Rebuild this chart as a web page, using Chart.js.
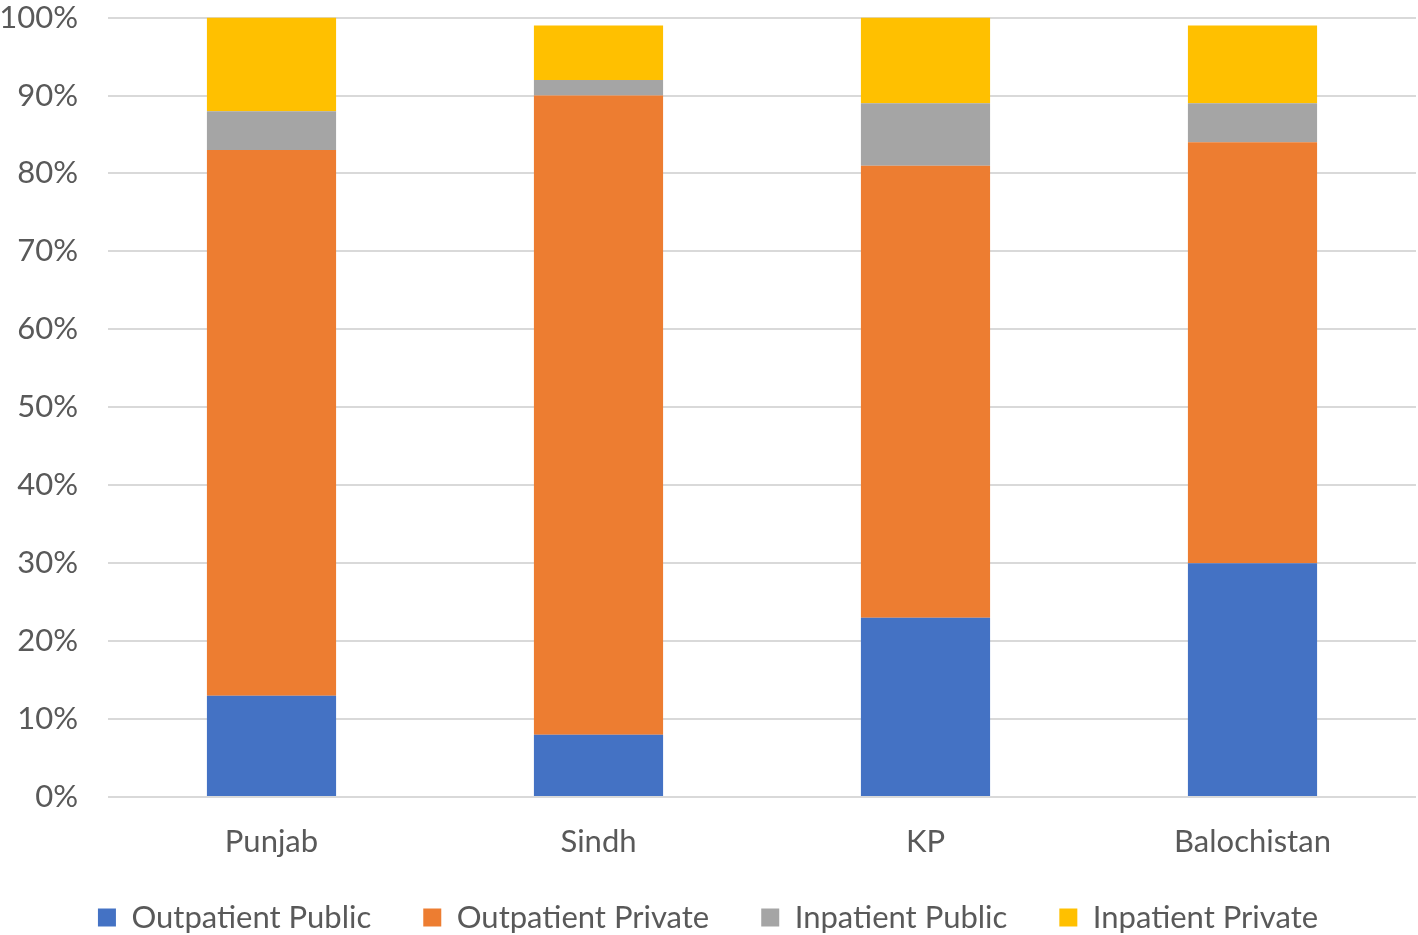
<!DOCTYPE html>
<html>
<head>
<meta charset="utf-8">
<script src="https://cdn.jsdelivr.net/npm/chart.js@4/dist/chart.umd.min.js"></script>
<style>
  html, body { margin: 0; padding: 0; background: #fff; }
  #frame { width: 1418px; height: 935px; overflow: hidden; position: relative; }
  #wrap { position: absolute; left: 0; top: -31px; width: 1418px; height: 987px; }
</style>
</head>
<body>
<div id="frame"><div id="wrap"><canvas id="myChart"></canvas></div></div>
<script>
const regions = ['Punjab', 'Sindh', 'KP', 'Balochistan'];
const outpatientPublic = [13, 8, 23, 30];
const outpatientPrivate = [70, 82, 58, 54];
const inpatientPublic = [5, 2, 8, 5];
const inpatientPrivate = [12, 7, 11, 10];

const ctx = document.getElementById('myChart');
const font = { family: "Lato, 'Open Sans', sans-serif", size: 31 };

function ds(label, data, color) {
  return {
    label: label,
    data: data,
    backgroundColor: color,
    borderWidth: 0,
    categoryPercentage: 1,
    barPercentage: 0.395
  };
}

// pull the legend a little closer to the axis labels
const liftLegend = {
  id: 'liftLegend',
  afterLayout(chart) {
    chart.legend.top -= 13;
    chart.legend.bottom -= 13;
  }
};

new Chart(ctx, {
  type: 'bar',
  data: {
    labels: regions,
    datasets: [
      ds('Outpatient Public', outpatientPublic, '#4472c4'),
      ds('Outpatient Private', outpatientPrivate, '#ed7d31'),
      ds('Inpatient Public', inpatientPublic, '#a5a5a5'),
      ds('Inpatient Private', inpatientPrivate, '#ffc000')
    ]
  },
  options: {
    responsive: true,
    maintainAspectRatio: false,
    animation: false,
    layout: { padding: { top: 0, right: 2, left: 0, bottom: 0 } },
    scales: {
      x: {
        stacked: true,
        grid: { display: false },
        border: { display: false },
        ticks: { color: '#595959', font: font, padding: 18 },
        afterFit: s => { s.height = 66; }
      },
      y: {
        stacked: true,
        min: 0,
        max: 100,
        ticks: {
          stepSize: 10,
          color: '#595959',
          font: font,
          padding: 30,
          callback: v => v + '%'
        },
        grid: { color: '#d9d9d9', lineWidth: 2, drawTicks: false },
        border: { display: false },
        afterFit: s => { s.width = 108; }
      }
    },
    plugins: {
      legend: {
        position: 'bottom',
        labels: {
          color: '#595959',
          font: font,
          boxWidth: 18,
          boxHeight: 18,
          padding: 52
        }
      },
      tooltip: { enabled: false }
    }
  },
  plugins: [liftLegend]
});
</script>
</body>
</html>
